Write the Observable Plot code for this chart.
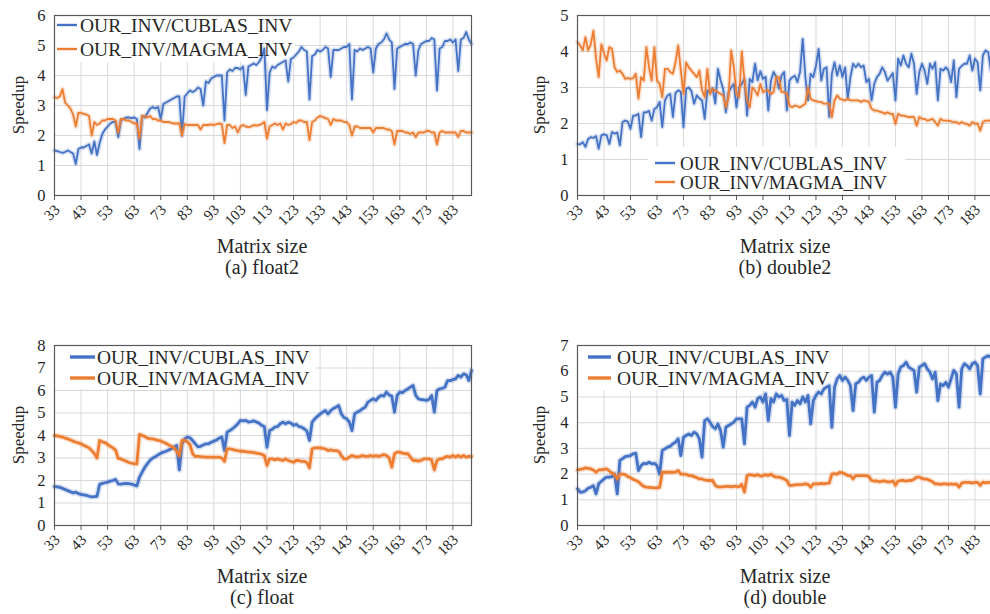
<!DOCTYPE html>
<html><head><meta charset="utf-8">
<script src="https://cdn.jsdelivr.net/npm/d3@7"></script>
<script src="https://cdn.jsdelivr.net/npm/@observablehq/plot@0.6"></script>
<style>
body{margin:0;background:#fff;overflow:hidden;font-family:"Liberation Serif","Tinos","Times New Roman",serif;}
#root{position:relative;width:990px;height:614px;overflow:hidden;background:#fff;}
.panel{position:absolute;}
.lbl{position:absolute;color:#262626;white-space:nowrap;transform:translate(-50%,-50%);line-height:1;font-family:"Liberation Serif","Tinos","Times New Roman",serif;}
.rot{transform:translate(-50%,-50%) rotate(-90deg);}
</style></head>
<body><div id="root"></div>
<script>
// ---------------- data ----------------
const sizes = d3.range(33, 191);               // matrix sizes 33..190
const xTickValues = d3.range(33, 190, 10);     // 33, 43, ..., 183
const legendNames = ["OUR_INV/CUBLAS_INV", "OUR_INV/MAGMA_INV"];
const panelCaptions = ["(a) float2", "(b) double2", "(c) float", "(d) double"];
const xTitle = "Matrix size";
const yTitle = "Speedup";
const yMaxes = [6, 5, 8, 7];

const float2Cublas = [
1.5,1.48,1.45,1.42,1.45,1.5,1.45,1.4,1.05,1.55,
1.6,1.6,1.65,1.7,1.4,1.8,1.35,1.75,2.05,2.2,
2.3,2.4,2.45,2.45,1.95,2.5,2.55,2.6,2.6,2.58,
2.6,2.55,1.55,2.65,2.6,2.75,2.9,2.95,2.9,2.95,
2.55,3.05,3.1,3.15,3.2,3.25,3.3,3.3,2.0,3.3,
3.4,3.5,3.45,3.5,3.6,3.55,3.0,3.8,3.75,3.9,
3.95,4.0,4.0,4.0,2.5,4.1,4.2,4.15,4.25,4.25,
4.2,4.3,3.35,4.3,4.35,4.4,4.35,4.45,4.6,4.9,
2.85,4.1,4.3,4.25,4.35,4.4,4.45,4.5,3.8,4.55,
4.6,4.7,4.8,4.95,4.85,4.8,3.2,4.65,4.7,4.85,
4.8,4.85,4.95,4.9,3.95,4.85,4.85,4.85,4.9,4.95,
4.95,5.05,3.2,4.85,4.8,4.9,4.85,4.9,4.95,4.9,
4.1,4.9,5.05,5.1,5.2,5.4,5.2,5.1,3.55,4.9,
4.95,5.0,5.05,5.05,5.1,5.05,4.0,4.85,5.05,5.1,
5.15,5.15,5.25,5.2,3.5,4.9,4.95,5.15,5.15,5.2,
5.1,5.2,4.15,5.2,5.25,5.45,5.2,5.05];

const float2Magma = [
3.28,3.25,3.3,3.55,3.1,3.0,2.9,2.7,2.3,2.75,
2.75,2.72,2.7,2.65,2.0,2.45,2.35,2.4,2.5,2.5,
2.55,2.55,2.55,2.5,2.1,2.55,2.55,2.5,2.5,2.45,
2.4,2.4,1.9,2.65,2.65,2.6,2.65,2.55,2.55,2.5,
2.5,2.45,2.45,2.45,2.42,2.4,2.4,2.4,2.0,2.38,
2.35,2.35,2.35,2.35,2.35,2.2,2.35,2.35,2.35,2.37,
2.35,2.38,2.4,2.38,1.75,2.35,2.35,2.25,2.3,2.1,
2.3,2.35,2.3,2.28,2.3,2.35,2.33,2.35,2.38,2.45,
1.9,2.3,2.35,2.4,2.35,2.4,2.2,2.4,2.35,2.38,
2.45,2.42,2.5,2.5,2.45,2.45,1.85,2.45,2.5,2.6,
2.65,2.62,2.58,2.55,2.35,2.55,2.5,2.5,2.5,2.45,
2.45,2.35,2.0,2.3,2.3,2.25,2.25,2.25,2.25,2.25,
2.1,2.25,2.25,2.25,2.25,2.2,2.2,2.15,1.7,2.15,
2.15,2.15,2.1,2.1,2.05,2.1,1.95,2.1,2.1,2.1,
2.15,2.15,2.1,2.1,1.7,2.1,2.15,2.1,2.1,2.1,
2.1,2.1,1.95,2.15,2.15,2.1,2.1,2.1];

const double2Cublas = [
1.43,1.42,1.48,1.35,1.57,1.62,1.6,1.65,1.3,1.67,
1.7,1.68,1.43,1.76,1.72,1.75,1.39,2.04,2.08,2.05,
1.85,2.22,2.22,2.27,1.62,2.31,2.31,2.35,2.08,2.4,
2.45,2.6,1.9,2.64,2.78,2.82,2.18,2.85,2.92,2.88,
1.9,2.96,3.0,2.9,2.55,2.78,2.7,2.64,2.13,2.92,
2.85,2.98,2.55,3.52,3.2,2.95,2.31,2.87,3.0,3.1,
2.45,3.0,3.1,3.24,2.22,3.24,3.15,3.66,3.2,3.45,
3.24,3.3,2.36,3.19,3.43,3.3,2.97,3.33,3.43,2.36,
3.19,3.28,3.33,3.15,3.43,4.35,3.29,2.64,3.38,3.29,
3.6,4.07,3.19,3.52,3.56,2.18,3.38,3.7,3.33,3.61,
3.29,3.56,2.69,3.29,3.66,3.56,3.66,3.56,3.61,3.15,
3.24,2.64,3.1,3.29,3.38,3.56,3.43,3.19,3.29,3.4,
2.64,3.8,3.61,3.89,3.66,3.56,3.94,3.66,2.82,3.43,
3.66,3.47,3.1,3.66,3.52,3.7,2.64,3.52,3.47,3.56,
3.47,3.15,3.75,2.73,3.52,3.6,3.66,3.66,3.89,3.47,
3.8,3.7,2.92,3.89,4.03,3.98,3.47,3.7];

const double2Magma = [
4.26,4.17,4.03,4.4,4.03,4.2,4.58,3.8,3.29,4.2,
3.95,3.75,4.12,4.08,3.56,3.43,3.47,3.38,3.24,3.26,
3.24,3.26,3.38,2.69,3.29,3.19,4.12,3.56,3.19,4.12,
3.19,3.1,2.73,3.52,3.52,3.43,3.38,3.7,4.17,3.47,
2.82,3.7,3.56,3.47,3.38,3.29,3.47,2.92,2.73,3.52,
2.82,2.96,2.92,2.87,2.82,2.78,2.45,2.73,4.03,3.56,
2.82,2.73,4.0,3.19,2.64,2.45,3.0,2.92,2.78,3.1,
2.87,2.92,2.92,2.82,2.87,3.29,3.29,2.87,2.87,2.82,
2.5,2.45,2.5,2.48,2.45,2.5,2.55,3.0,2.69,2.64,
2.62,2.6,2.6,2.55,2.55,2.55,2.18,2.64,2.78,2.69,
2.66,2.64,2.69,2.64,2.64,2.64,2.64,2.6,2.64,2.62,
2.6,2.41,2.36,2.36,2.33,2.31,2.27,2.31,2.27,2.27,
1.99,2.27,2.22,2.22,2.2,2.18,2.18,2.18,1.94,2.18,
2.13,2.13,2.08,2.1,2.13,2.04,1.94,2.13,2.08,2.08,
2.08,2.06,2.04,2.04,1.99,2.04,2.0,1.99,1.94,2.04,
1.99,2.0,1.8,2.04,2.08,2.08,2.08,2.08];

const floatCublas = [
1.73,1.72,1.7,1.65,1.6,1.55,1.5,1.45,1.48,1.42,
1.38,1.36,1.34,1.3,1.27,1.28,1.3,1.83,1.87,1.9,
1.93,1.97,2.0,2.05,1.85,1.84,1.86,1.87,1.86,1.84,
1.8,1.76,2.15,2.37,2.59,2.75,2.9,3.0,3.06,3.14,
3.21,3.26,3.3,3.36,3.41,3.48,3.56,2.47,3.63,3.85,
3.93,3.9,3.78,3.63,3.5,3.52,3.58,3.63,3.63,3.7,
3.75,3.8,3.88,3.93,3.33,4.15,4.22,4.3,4.4,4.52,
4.67,4.65,4.67,4.6,4.62,4.65,4.6,4.55,4.45,4.4,
3.48,4.22,4.28,4.37,4.4,4.52,4.59,4.52,4.59,4.55,
4.45,4.5,4.4,4.37,4.3,4.2,3.78,4.59,4.74,4.85,
4.95,5.04,5.11,4.96,5.11,5.2,5.26,5.33,4.96,4.8,
4.74,4.6,4.22,4.96,5.04,5.1,5.19,5.26,5.48,5.56,
5.63,5.56,5.7,5.78,5.75,5.93,5.8,5.75,5.04,5.78,
5.93,5.9,6.0,6.07,6.15,6.22,5.78,5.63,5.6,5.58,
5.56,5.6,5.78,5.04,6.0,6.07,6.1,6.15,6.44,6.44,
6.48,6.52,6.67,6.6,6.74,6.7,6.44,6.89];

const floatMagma = [
4.0,3.98,3.96,3.93,3.88,3.85,3.8,3.75,3.7,3.67,
3.63,3.56,3.51,3.45,3.33,3.2,3.0,3.78,3.72,3.68,
3.6,3.52,3.45,3.35,2.98,2.96,2.9,2.86,2.8,2.77,
2.75,2.74,4.05,4.0,3.95,3.88,3.85,3.85,3.82,3.78,
3.76,3.7,3.65,3.58,3.52,3.45,3.3,3.1,3.78,3.78,
3.72,3.6,3.19,3.07,3.07,3.06,3.05,3.04,3.04,3.04,
3.03,3.04,3.04,3.0,2.85,3.41,3.41,3.38,3.35,3.33,
3.3,3.3,3.28,3.26,3.26,3.24,3.22,3.19,3.17,3.11,
2.67,2.96,2.96,2.92,2.96,2.92,2.89,2.96,2.89,2.85,
2.81,2.89,2.89,2.85,2.85,2.8,2.56,3.41,3.45,3.45,
3.45,3.43,3.4,3.33,3.36,3.33,3.33,3.3,3.11,2.96,
2.96,3.04,3.11,3.07,3.04,3.07,3.11,3.07,3.07,3.11,
3.07,3.11,3.07,3.11,3.15,3.11,3.0,2.59,3.19,3.26,
3.26,3.22,3.19,3.19,3.04,2.89,2.89,2.86,2.89,2.96,
2.96,2.96,2.92,2.47,2.89,2.96,2.96,3.04,3.07,3.04,
3.11,3.04,3.11,3.04,3.11,3.04,3.07,3.07];

const doubleCublas = [
1.43,1.3,1.3,1.35,1.45,1.49,1.55,1.23,1.62,1.72,
1.81,1.88,1.88,1.9,2.0,1.23,2.53,2.6,2.68,2.7,
2.72,2.79,2.81,2.14,2.33,2.42,2.4,2.46,2.4,2.42,
2.33,2.0,2.92,2.98,3.05,3.08,3.18,3.24,3.37,2.72,
3.43,3.5,3.56,3.5,3.63,3.56,3.37,2.66,4.08,4.15,
4.02,3.85,3.76,3.95,3.69,3.05,3.82,3.89,3.95,4.02,
4.15,4.15,4.15,3.18,4.6,4.67,4.8,4.6,4.93,5.0,
4.8,5.12,4.08,4.93,4.8,5.12,5.0,5.06,4.86,4.9,
3.5,4.8,4.67,4.86,4.73,5.0,4.8,5.06,3.95,4.86,
5.06,5.19,5.12,5.31,5.38,5.44,3.82,5.38,5.7,5.83,
5.64,5.77,5.64,5.44,4.47,5.51,5.57,5.7,5.77,5.64,
5.77,5.83,4.41,5.57,5.64,5.83,5.96,5.89,5.96,5.77,
4.6,5.89,6.16,6.22,6.35,6.16,6.09,6.03,5.19,6.16,
6.22,6.29,6.09,5.96,5.7,5.96,4.86,5.51,5.44,5.57,
5.38,5.7,6.03,5.89,4.6,6.09,6.29,6.22,6.09,6.29,
6.35,6.22,5.12,6.48,6.55,6.6,6.55,6.6];

const doubleMagma = [
2.16,2.18,2.2,2.24,2.22,2.2,2.16,2.07,2.16,2.16,
2.18,2.2,2.12,2.04,1.98,1.81,2.0,2.0,1.98,1.9,
1.86,1.8,1.75,1.7,1.6,1.52,1.49,1.48,1.47,1.46,
1.46,1.48,2.07,2.07,2.07,2.07,2.07,2.08,2.14,2.0,
2.0,1.99,1.94,1.94,1.9,1.86,1.81,1.81,1.77,1.75,
1.75,1.75,1.56,1.5,1.5,1.5,1.52,1.52,1.5,1.52,
1.52,1.5,1.6,1.3,1.94,1.98,1.96,1.94,1.98,1.92,
1.94,1.98,1.94,2.0,1.92,1.88,1.88,1.85,1.81,1.75,
1.56,1.56,1.58,1.59,1.59,1.6,1.62,1.6,1.49,1.62,
1.62,1.62,1.64,1.62,1.64,1.65,2.0,2.02,2.0,2.07,
2.05,2.0,1.94,1.94,1.81,1.94,1.94,1.94,1.94,1.94,
1.9,1.75,1.73,1.73,1.7,1.73,1.73,1.7,1.7,1.73,
1.56,1.73,1.75,1.75,1.73,1.75,1.75,1.8,1.88,1.88,
1.83,1.8,1.8,1.75,1.7,1.62,1.62,1.6,1.62,1.62,
1.6,1.62,1.6,1.62,1.49,1.65,1.68,1.68,1.68,1.65,
1.68,1.68,1.56,1.69,1.66,1.68,1.68,1.7];

// ---------------- style / layout ----------------
const BLUE = "#4472C4", ORANGE = "#ED7D31", TEXT = "#262626";
const FONT = '"Liberation Serif","Tinos","Times New Roman",serif';

const panels = [
  {left: 0,   top: 0,   width: 490, ml: 54, mr: 19, cublas: float2Cublas,  magma: float2Magma,  yMax: yMaxes[0], lw: 1.8,
   box: {x: 55, y: 16, w: 240, h: 46}, legend: {x: 57, y: 25, dy: 24, sw: 20, gap: 3, fs: 19.5},
   cap: panelCaptions[0], cx: 262, ylx: 18},
  {left: 500, top: 0,   width: 495, ml: 77, mr: 2,  cublas: double2Cublas, magma: double2Magma, yMax: yMaxes[1], lw: 1.8,
   box: {x: 148, y: 147, w: 257, h: 47}, legend: {x: 155, y: 163, dy: 19, sw: 20, gap: 5, fs: 19},
   cap: panelCaptions[1], cx: 785, ylx: 539},
  {left: 0,   top: 330, width: 490, ml: 54, mr: 19, cublas: floatCublas,   magma: floatMagma,   yMax: yMaxes[2], lw: 2.8,
   box: {x: 55, y: 16, w: 260, h: 43}, legend: {x: 70, y: 27, dy: 21, sw: 25, gap: 2, fs: 19.5},
   cap: panelCaptions[2], cx: 262, ylx: 18},
  {left: 500, top: 330, width: 495, ml: 77, mr: 2,  cublas: doubleCublas,  magma: doubleMagma,  yMax: yMaxes[3], lw: 2.8,
   box: {x: 78, y: 16, w: 262, h: 44}, legend: {x: 88, y: 27, dy: 21, sw: 23, gap: 6, fs: 19.5},
   cap: panelCaptions[3], cx: 785, ylx: 539}
];

function boxMark(b) {
  return () => d3.create("svg:rect").attr("x", b.x).attr("y", b.y).attr("width", b.w).attr("height", b.h).attr("fill", "#fff").node();
}
function legendMark(lg, lw) {
  return () => {
    const g = d3.create("svg:g").attr("font-size", lg.fs).attr("font-family", FONT).attr("fill", TEXT)
      .attr("text-anchor", "start");
    [BLUE, ORANGE].forEach((c, i) => {
      const y = lg.y + i * lg.dy;
      g.append("line").attr("x1", lg.x).attr("x2", lg.x + lg.sw).attr("y1", y).attr("y2", y)
        .attr("stroke", c).attr("stroke-width", lw + 0.6);
      g.append("text").attr("x", lg.x + lg.sw + lg.gap).attr("y", y).attr("dy", "0.35em")
        .attr("text-anchor", "start").text(legendNames[i]);
    });
    return g.node();
  };
}
// diagonal (-45 degree) tick labels, positioned through the x scale
function xLabelsMark() {
  return (index, scales, values, dims) => {
    const g = d3.create("svg:g").attr("font-size", 15).attr("font-family", FONT).attr("fill", TEXT);
    const yb = dims.height - dims.marginBottom;
    xTickValues.forEach(v => {
      g.append("text")
        .attr("text-anchor", "end")
        .attr("transform", "translate(" + (scales.x(v) + 3) + "," + (yb + 12) + ") rotate(-45)")
        .attr("dy", "0.35em")
        .text(String(v));
    });
    return g.node();
  };
}

const root = document.getElementById("root");
const H = 230, MT = 15, MB = 35;

panels.forEach(p => {
  const rows = sizes.map((n, i) => ({n, cublas: p.cublas[i], magma: p.magma[i]}));
  const svg = Plot.plot({
    width: p.width, height: H,
    marginLeft: p.ml, marginRight: p.mr, marginTop: MT, marginBottom: MB,
    style: {fontFamily: FONT, fontSize: "15px", color: TEXT, background: "transparent", overflow: "visible"},
    x: {domain: [33, 190]},
    y: {domain: [0, p.yMax]},
    marks: [
      Plot.gridX(xTickValues, {stroke: "#d9d9d9", strokeOpacity: 1, strokeWidth: 1}),
      Plot.gridY(d3.range(1, p.yMax), {stroke: "#d9d9d9", strokeOpacity: 1, strokeWidth: 1}),
      boxMark(p.box),
      Plot.line(rows, {x: "n", y: "cublas", stroke: BLUE, strokeWidth: p.lw + 3, strokeOpacity: 0.22}),
      Plot.line(rows, {x: "n", y: "cublas", stroke: BLUE, strokeWidth: p.lw}),
      Plot.line(rows, {x: "n", y: "magma", stroke: ORANGE, strokeWidth: p.lw + 3, strokeOpacity: 0.22}),
      Plot.line(rows, {x: "n", y: "magma", stroke: ORANGE, strokeWidth: p.lw}),
      Plot.frame({stroke: "#595959", strokeWidth: 1.2}),
      Plot.axisX(xTickValues, {tickSize: 5, tickFormat: () => "", label: null, stroke: "#595959"}),
      xLabelsMark(),
      Plot.axisY(d3.range(0, p.yMax + 1), {tickSize: 0, tickPadding: 9, label: null, fontSize: 16.5}),
      legendMark(p.legend, p.lw)
    ]
  });
  svg.classList.add("panel");
  svg.style.left = p.left + "px";
  svg.style.top = p.top + "px";
  root.appendChild(svg);

  const add = (txt, x, y, fs, cls) => {
    const d = document.createElement("div");
    d.className = "lbl" + (cls ? " " + cls : "");
    d.textContent = txt;
    d.style.left = x + "px"; d.style.top = y + "px"; d.style.fontSize = fs + "px";
    root.appendChild(d);
  };
  add(yTitle, p.ylx, p.top + MT + 90, 17, "rot");
  add(xTitle, p.cx, p.top + 246, 20);
  add(p.cap, p.cx, p.top + 267, 20);
});
</script>
</body></html>
